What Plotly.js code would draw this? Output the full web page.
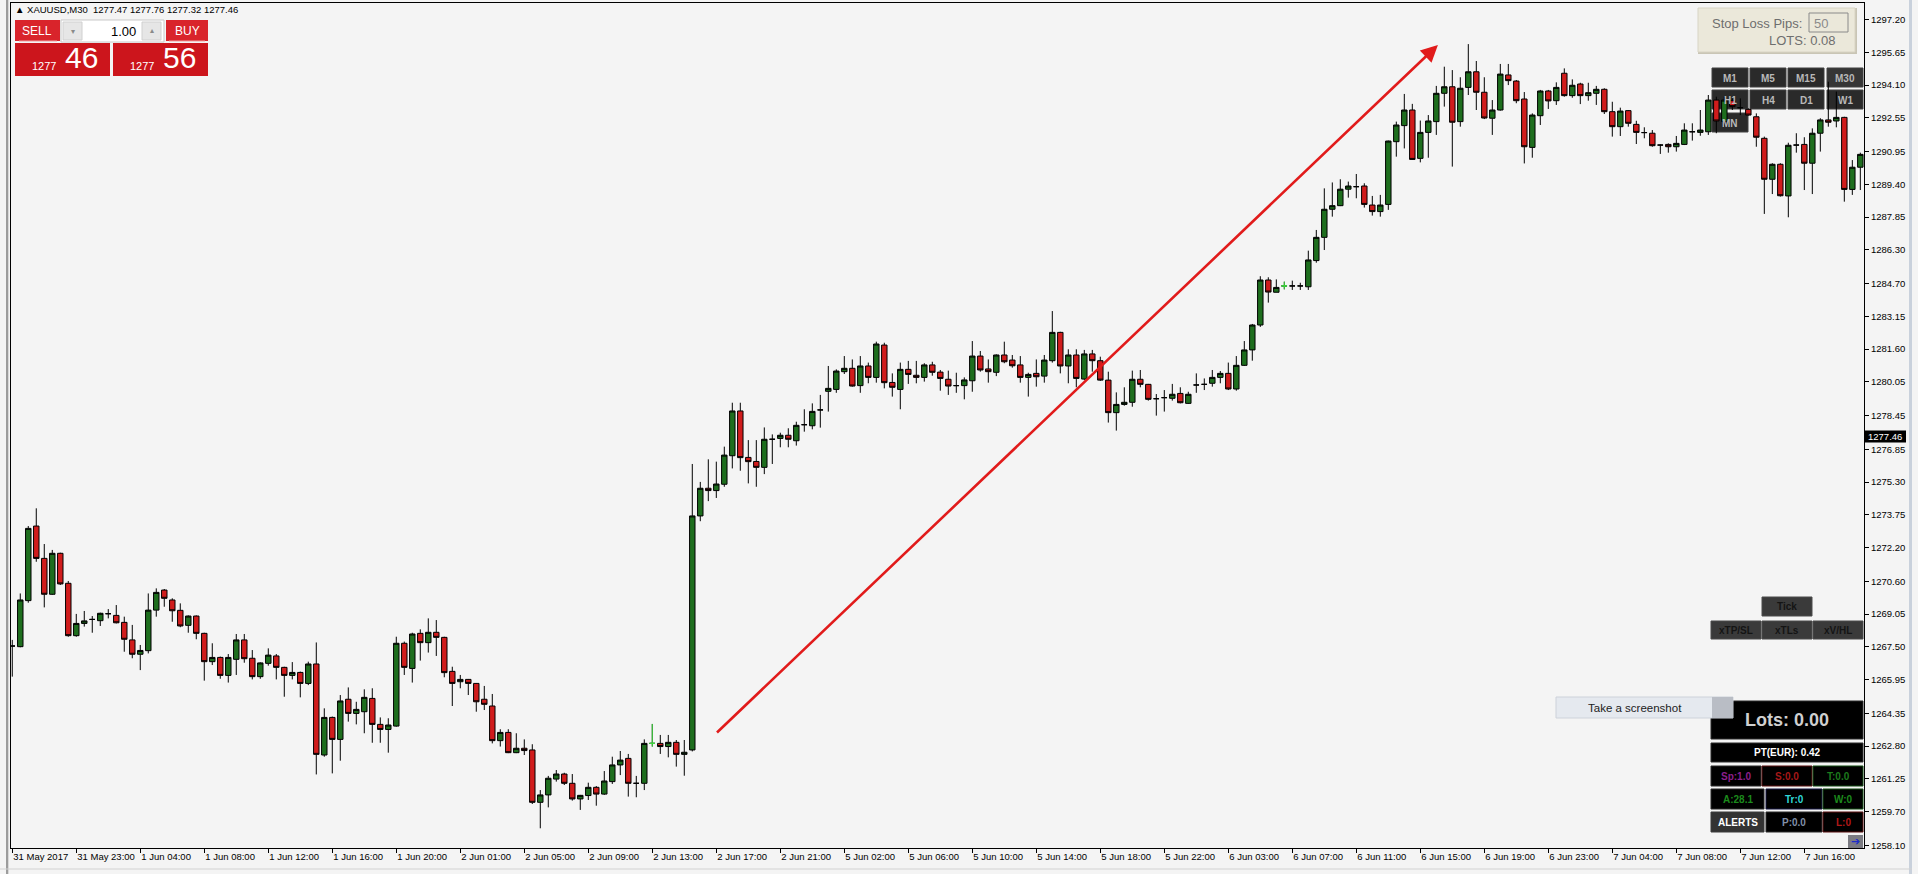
<!DOCTYPE html>
<html><head><meta charset="utf-8">
<script src="https://cdn.plot.ly/plotly-3.0.1.min.js"></script>
<style>html,body{margin:0;padding:0;background:#f4f4f4;overflow:hidden}</style>
</head><body><div id="chart" style="width:1918px;height:874px"></div>
<script>
// ---------------- DATA ----------------
const symbol = 'XAUUSD,M30';
const headerOHLC = ['1277.47', '1277.76', '1277.32', '1277.46'];
const bidParts = ['1277', '46'];
const askParts = ['1277', '56'];
const lotSize = '1.00';
const currentPrice = 1277.46;

const xTickLabels = ['31 May 2017', '31 May 23:00', '1 Jun 04:00', '1 Jun 08:00', '1 Jun 12:00', '1 Jun 16:00',
  '1 Jun 20:00', '2 Jun 01:00', '2 Jun 05:00', '2 Jun 09:00', '2 Jun 13:00', '2 Jun 17:00', '2 Jun 21:00',
  '5 Jun 02:00', '5 Jun 06:00', '5 Jun 10:00', '5 Jun 14:00', '5 Jun 18:00', '5 Jun 22:00', '6 Jun 03:00',
  '6 Jun 07:00', '6 Jun 11:00', '6 Jun 15:00', '6 Jun 19:00', '6 Jun 23:00', '7 Jun 04:00', '7 Jun 08:00',
  '7 Jun 12:00', '7 Jun 16:00'];
const barsPerTick = 8;

const yTickLabels = ['1297.20', '1295.65', '1294.10', '1292.55', '1290.95', '1289.40', '1287.85', '1286.30',
  '1284.70', '1283.15', '1281.60', '1280.05', '1278.45', '1276.85', '1275.30', '1273.75', '1272.20', '1270.60',
  '1269.05', '1267.50', '1265.95', '1264.35', '1262.80', '1261.25', '1259.70', '1258.10'];

const open = [1267.54,1267.51,1269.69,1273.22,1271.69,1269.99,1271.93,1270.51,1268.03,1268.61,
1268.80,1268.74,1269.07,1268.99,1268.66,1267.83,1267.15,1267.32,1269.24,1270.19,
1269.72,1269.23,1268.52,1268.96,1268.14,1266.80,1267.00,1266.15,1266.91,1267.83,
1266.96,1266.09,1266.72,1267.07,1266.53,1266.15,1266.29,1265.77,1266.69,1262.38,
1264.16,1263.12,1265.02,1264.35,1264.43,1265.06,1263.83,1263.59,1263.75,1267.67,
1266.48,1268.14,1267.70,1268.19,1267.95,1266.34,1265.85,1265.96,1265.77,1265.02,
1264.70,1263.06,1263.45,1262.49,1262.70,1262.62,1260.14,1260.49,1261.24,1261.48,
1261.04,1260.30,1260.46,1260.85,1260.53,1261.12,1261.91,1262.22,1261.04,1261.04,
1262.93,1262.93,1262.78,1262.98,1262.41,1262.62,1273.70,1275.01,1274.90,1275.20,
1276.55,1278.67,1276.47,1276.28,1276.00,1277.33,1277.37,1277.52,1277.26,1278.02,
1277.97,1278.72,1279.60,1279.69,1280.53,1280.69,1279.87,1280.80,1280.26,1281.79,
1280.02,1279.69,1280.64,1280.36,1280.26,1280.85,1280.51,1280.17,1279.87,1279.87,
1280.10,1281.27,1280.66,1280.50,1281.32,1281.08,1280.85,1280.26,1280.45,1280.32,
1281.05,1282.39,1280.80,1281.32,1280.18,1281.37,1281.05,1280.13,1278.59,1278.98,
1279.08,1280.17,1279.93,1279.25,1279.30,1279.27,1279.50,1279.03,1279.90,1279.93,
1279.98,1280.26,1280.45,1279.71,1280.83,1281.56,1282.74,1284.87,1284.29,1284.59,
1284.59,1284.59,1284.55,1285.79,1286.89,1288.22,1288.39,1289.17,1289.29,1289.32,
1288.42,1288.11,1288.45,1291.42,1292.18,1292.92,1290.63,1291.86,1292.37,1293.71,
1294.02,1292.37,1293.99,1294.73,1293.76,1292.53,1292.92,1294.58,1294.29,1293.44,
1291.15,1292.65,1293.82,1293.36,1294.66,1293.60,1294.15,1293.60,1293.71,1293.90,
1292.84,1292.13,1292.89,1292.24,1291.85,1291.82,1291.26,1291.29,1291.18,1291.29,
1291.89,1291.86,1291.89,1293.39,1292.37,1293.36,1293.03,1292.95,1292.60,1291.58,
1289.64,1290.35,1288.85,1291.26,1291.29,1290.40,1291.82,1292.45,1292.40,1292.57,
1289.16,1290.21];
const high = [1267.83,1270.03,1273.22,1274.06,1272.37,1272.09,1271.96,1270.62,1269.06,1269.20,
1268.96,1269.12,1269.29,1269.48,1268.93,1268.54,1267.59,1270.03,1270.27,1270.24,
1269.80,1269.56,1268.99,1268.99,1268.17,1267.67,1267.04,1267.16,1268.11,1268.11,
1267.35,1266.77,1267.43,1267.16,1266.56,1266.78,1266.33,1266.80,1267.71,1264.59,
1264.20,1265.22,1265.58,1264.90,1265.49,1265.54,1264.16,1264.12,1267.98,1267.75,
1268.17,1268.33,1268.85,1268.77,1267.98,1266.56,1266.17,1265.98,1265.79,1265.65,
1265.27,1263.60,1263.60,1263.41,1263.12,1262.89,1260.72,1261.39,1261.67,1261.54,
1261.48,1260.49,1261.07,1260.91,1261.62,1262.30,1262.57,1262.43,1261.39,1263.12,
1263.85,1263.33,1263.33,1263.09,1263.09,1276.16,1275.31,1276.38,1276.27,1276.98,
1279.06,1279.06,1277.29,1277.29,1277.89,1277.56,1277.64,1277.85,1278.16,1278.75,
1279.03,1279.43,1280.80,1280.64,1281.27,1281.11,1281.27,1280.96,1281.95,1281.90,
1280.45,1280.96,1281.04,1281.04,1280.93,1281.00,1280.61,1280.58,1280.48,1280.26,
1281.98,1281.51,1281.11,1281.35,1281.95,1281.32,1281.27,1280.48,1281.11,1281.32,
1283.40,1282.42,1281.59,1281.59,1281.56,1281.56,1281.24,1280.53,1279.55,1279.79,
1280.58,1280.61,1279.95,1279.47,1279.66,1279.95,1279.79,1279.58,1280.45,1280.21,
1280.61,1280.56,1280.96,1281.27,1281.98,1282.79,1285.05,1285.00,1284.90,1284.79,
1284.84,1284.74,1286.26,1287.24,1289.21,1289.49,1289.64,1289.53,1289.89,1289.45,
1288.85,1288.90,1291.47,1292.37,1293.68,1293.21,1292.42,1292.68,1294.06,1294.97,
1294.81,1294.47,1296.04,1295.24,1294.47,1293.39,1295.10,1295.10,1294.34,1293.77,
1292.76,1293.87,1293.87,1294.23,1294.89,1294.37,1294.21,1294.21,1294.06,1293.95,
1293.31,1293.03,1292.92,1292.41,1292.10,1291.97,1291.29,1291.34,1291.69,1292.29,
1292.29,1292.92,1293.63,1293.55,1293.55,1293.55,1293.47,1293.00,1292.76,1291.66,
1290.40,1290.40,1291.37,1291.82,1291.63,1292.05,1292.53,1294.26,1293.79,1292.60,
1290.55,1290.90];
const low = [1266.09,1267.48,1269.59,1271.53,1269.37,1269.96,1270.43,1267.98,1267.98,1268.46,
1268.17,1268.49,1268.85,1268.61,1267.27,1266.96,1266.40,1267.19,1268.93,1269.40,
1268.69,1268.43,1268.17,1267.86,1265.90,1266.64,1265.99,1265.81,1266.17,1266.75,
1265.96,1265.99,1266.61,1265.96,1265.14,1265.96,1265.11,1265.69,1261.46,1262.30,
1261.51,1262.11,1263.96,1263.83,1263.41,1262.96,1262.96,1262.49,1263.72,1266.17,
1265.81,1266.85,1267.23,1267.07,1266.06,1264.70,1265.54,1265.22,1264.43,1264.51,
1262.93,1262.78,1262.47,1262.47,1262.38,1260.06,1258.91,1259.90,1261.12,1260.96,
1260.22,1259.78,1260.25,1259.98,1260.49,1261.01,1261.43,1260.41,1260.38,1260.72,
1262.78,1262.43,1262.27,1261.83,1261.40,1262.55,1273.45,1274.40,1274.55,1275.08,
1275.95,1275.84,1275.24,1275.08,1275.68,1276.16,1276.95,1276.95,1277.03,1277.69,
1277.80,1277.88,1278.64,1279.53,1280.42,1279.82,1279.53,1279.98,1280.01,1279.74,
1279.35,1278.75,1279.95,1279.98,1280.06,1280.34,1279.63,1279.43,1279.53,1279.22,
1279.58,1280.53,1280.01,1280.32,1280.93,1280.72,1280.01,1279.35,1279.82,1280.01,
1280.96,1280.45,1279.98,1279.79,1280.13,1280.53,1280.09,1278.12,1277.74,1278.92,
1278.87,1279.79,1279.16,1278.45,1278.64,1279.16,1279.03,1279.00,1279.53,1279.66,
1279.82,1279.98,1279.66,1279.63,1280.80,1281.05,1282.65,1283.80,1284.29,1284.43,
1284.40,1284.40,1284.40,1285.69,1286.29,1287.87,1288.37,1288.77,1288.74,1288.30,
1287.92,1287.87,1288.19,1290.71,1291.10,1290.56,1290.44,1290.66,1291.74,1293.08,
1290.24,1292.13,1293.63,1292.92,1292.49,1291.74,1292.89,1294.10,1293.24,1290.39,
1290.66,1292.21,1292.97,1293.16,1293.55,1293.50,1293.20,1293.36,1293.16,1292.73,
1291.66,1291.69,1292.13,1291.31,1291.58,1291.18,1290.84,1290.90,1290.95,1291.26,
1291.47,1291.70,1291.74,1291.82,1292.13,1292.92,1292.68,1292.65,1291.18,1288.00,
1288.94,1288.82,1287.84,1290.90,1289.13,1288.94,1290.95,1292.13,1292.10,1288.58,
1288.90,1289.13];
const close = [1267.54,1269.72,1273.11,1271.69,1269.99,1271.93,1270.48,1268.03,1268.61,1268.73,
1268.80,1269.09,1269.07,1268.64,1267.86,1267.15,1267.33,1269.24,1270.08,1269.80,
1269.21,1268.49,1268.96,1268.14,1266.80,1267.00,1266.15,1267.00,1267.83,1266.94,
1266.09,1266.74,1267.11,1266.53,1266.15,1266.29,1265.77,1266.69,1262.41,1264.16,
1263.12,1264.94,1264.35,1264.54,1265.11,1263.83,1263.59,1263.80,1267.67,1266.53,
1268.11,1267.70,1268.19,1267.95,1266.28,1265.77,1265.96,1265.77,1264.90,1264.78,
1263.06,1263.45,1262.49,1262.70,1262.59,1260.14,1260.49,1261.28,1261.48,1261.04,
1260.30,1260.47,1260.85,1260.53,1261.15,1261.91,1262.14,1261.04,1261.04,1262.93,
1262.93,1262.78,1262.98,1262.41,1262.51,1273.70,1275.01,1274.90,1275.21,1276.58,
1278.67,1276.46,1276.27,1276.00,1277.33,1277.33,1277.52,1277.33,1277.99,1278.02,
1278.65,1278.72,1279.74,1280.56,1280.69,1279.85,1280.80,1280.26,1281.84,1280.01,
1279.79,1280.64,1280.40,1280.26,1280.85,1280.50,1280.21,1279.85,1279.87,1280.14,
1281.27,1280.61,1280.53,1281.32,1281.00,1280.81,1280.26,1280.40,1280.29,1281.08,
1282.39,1280.80,1281.32,1280.21,1281.37,1281.05,1280.13,1278.59,1278.98,1279.08,
1280.17,1279.93,1279.22,1279.25,1279.30,1279.46,1279.06,1279.46,1279.90,1279.93,
1280.26,1280.45,1279.71,1280.83,1281.56,1282.74,1284.87,1284.30,1284.52,1284.59,
1284.59,1284.59,1285.82,1286.89,1288.22,1288.39,1289.17,1289.32,1289.29,1288.45,
1288.11,1288.42,1291.45,1292.21,1292.92,1290.58,1291.86,1292.40,1293.71,1294.02,
1292.34,1293.95,1294.73,1293.76,1292.54,1292.92,1294.62,1294.31,1293.36,1291.18,
1292.68,1293.82,1293.35,1293.99,1293.60,1294.09,1293.60,1293.74,1293.90,1292.84,
1292.13,1292.87,1292.29,1291.86,1291.85,1291.23,1291.26,1291.18,1291.34,1291.97,
1291.89,1291.97,1293.39,1292.40,1293.39,1293.08,1293.03,1292.68,1291.63,1289.64,
1290.35,1288.86,1291.25,1291.26,1290.40,1291.82,1292.45,1292.34,1292.57,1289.16,
1290.21,1290.82];
const limeBars = [80, 159];
// trend arrow drawn on the chart: [bar index, price]
const arrowTail = [87.9, 1263.38];
const arrowHead = [178.2, 1296.0];

// ---------------- LAYOUT HELPERS ----------------
const FW = 1918, FH = 874;
const ML = 11, MR = 54, MT = 3, MB = 26;
const PW = FW - ML - MR, PH = FH - MT - MB;
const yMin = 1257.977, yMax = 1297.986;
const X = px => (px - ML) / PW;
const Y = py => 1 - (py - MT) / PH;
const YP = p => (p - yMin) / (yMax - yMin);
const FONT = 'Liberation Sans, Arial, sans-serif';

const idx = open.map((_, i) => i);
const shapes = [], annotations = [];
function rect(x0, y0, x1, y1, fill, line, lw, layer) {
  shapes.push({type: 'rect', xref: 'paper', yref: 'paper', x0: X(x0), x1: X(x1), y0: Y(y1), y1: Y(y0),
    fillcolor: fill, line: {color: line || fill, width: lw || 0}, layer: layer || 'above'});
}
function hline(x0, x1, y, color, w) {
  shapes.push({type: 'line', xref: 'paper', yref: 'paper', x0: X(x0), x1: X(x1), y0: Y(y), y1: Y(y),
    line: {color: color, width: w || 1}});
}
function txt(x, y, s, size, color, anchor, bold, family) {
  annotations.push({xref: 'paper', yref: 'paper', x: X(x), y: Y(y), text: bold ? '<b>' + s + '</b>' : s,
    showarrow: false, xanchor: anchor || 'center', yanchor: 'middle', borderpad: 0,
    font: {family: family || FONT, size: size, color: color}});
}

// window frame
rect(6, -5, 8.3, 880, '#9c9c9c');
rect(1909, -5, 1912, 880, '#c9d1dc');
hline(0, 1912, 869, '#d2d2d2', 1);

// header
txt(14, 9.5, '▲ ' + symbol + '  ' + headerOHLC.join(' '), 9.5, '#000', 'left');

// sell / buy panel
rect(15, 20, 60, 41, '#d9242b');
hline(19, 57, 41, '#f2a0a0', 1);
txt(37, 30.5, 'SELL', 12, '#ffffff');
rect(61, 20, 164, 42, '#ffffff', '#c9c9c9', 1);
rect(63, 22, 82, 40, '#e6e6e6', '#d0d0d0', 1);
rect(142, 22, 161, 40, '#e6e6e6', '#d0d0d0', 1);
txt(72.5, 31, '▾', 8, '#8a8a8a');
txt(151.5, 30.5, '▴', 8, '#8a8a8a');
txt(137, 31, lotSize, 13, '#000', 'right');
rect(166, 20, 208, 41, '#d9242b');
hline(169, 205, 41, '#f2a0a0', 1);
txt(187, 30.5, 'BUY', 12, '#ffffff');
rect(15, 43, 110, 76, '#cc151c');
rect(113, 43, 208, 76, '#cc151c');
txt(31, 65.5, bidParts[0], 11, '#ffffff', 'left');
txt(64, 57.5, bidParts[1], 30, '#ffffff', 'left');
txt(129, 65.5, askParts[0], 11, '#ffffff', 'left');
txt(162, 57.5, askParts[1], 30, '#ffffff', 'left');

// stop loss box
rect(1698, 8, 1857, 54, '#c9c5b5');
rect(1698, 8, 1855, 52, '#ebe8da', '#d8d4c4', 1);
txt(1711, 23.5, 'Stop Loss Pips:', 13, '#6e6e6e', 'left');
rect(1809, 13, 1848, 32, '#ebe8da', '#8a8a8a', 1);
txt(1813, 23, '50', 13, '#8a8a8a', 'left');
txt(1836, 41, 'LOTS: 0.08', 13, '#6e6e6e', 'right');

// timeframe buttons (behind candles)
const tfCols = [[1712, 1748], [1750, 1786], [1788, 1824], [1827, 1863]];
const tfRows = [[68, 87], [90, 109], [113, 132]];
const tfNames = [['M1', 'M5', 'M15', 'M30'], ['H1', 'H4', 'D1', 'W1'], ['MN']];
tfNames.forEach((row, r) => row.forEach((n, c) => {
  const [x0, x1] = tfCols[c], [y0, y1] = tfRows[r];
  rect(x0, y0, x1, y1, n === 'M30' ? '#363636' : '#2a2a2a', '#404040', 1, 'below');
  txt((x0 + x1) / 2, (y0 + y1) / 2 + 0.5, n, 10, '#b8b8b8', 'center', true);
}));

// lower right control panel
rect(1762, 597, 1812, 616, '#3a3a3a', '#4a4a4a', 1);
txt(1787, 606.5, 'Tick', 10, '#141414', 'center', true);
[['xTP/SL', 1711, 1761], ['xTLs', 1762, 1812], ['xV/HL', 1813, 1863]].forEach(b => {
  rect(b[1], 621, b[2], 639, '#3a3a3a', '#4a4a4a', 1);
  txt((b[1] + b[2]) / 2, 630, b[0], 10, '#141414', 'center', true);
});
rect(1711, 701, 1863, 739, '#000000', '#2a2a2a', 1);
txt(1787, 720, 'Lots: 0.00', 18, '#cfcfcf', 'center', true);
rect(1711, 743, 1863, 762, '#000000', '#2a2a2a', 1);
txt(1787, 752.5, 'PT(EUR): 0.42', 10, '#ffffff', 'center', true);
const cells = [
  ['Sp:1.0', 1711, 1761, 766, 786, '#000', '#2a2a2a', '#8c1f8c'],
  ['S:0.0', 1762, 1812, 766, 786, '#000', '#5a1010', '#a61818'],
  ['T:0.0', 1813, 1863, 766, 786, '#000', '#134d13', '#1c7a1c'],
  ['A:28.1', 1711, 1764, 789, 809, '#000', '#2a2a2a', '#1c8a1c'],
  ['Tr:0', 1766, 1822, 789, 809, '#000', '#141440', '#2fd6d6'],
  ['W:0', 1823, 1863, 789, 809, '#000', '#134d13', '#1c8a1c'],
  ['ALERTS', 1711, 1764, 812, 832, '#333333', '#3c3c3c', '#ffffff'],
  ['P:0.0', 1766, 1822, 812, 832, '#000', '#2a2a2a', '#8090a8'],
  ['L:0', 1823, 1863, 812, 832, '#000', '#5a1010', '#b01818']];
cells.forEach(c => {
  rect(c[1], c[3], c[2], c[4], c[5], c[6], 1);
  txt((c[1] + c[2]) / 2, (c[3] + c[4]) / 2, c[0], 10, c[7], 'center', true);
});
rect(1848, 835, 1863, 848, '#7b7b82');
txt(1855.5, 841.5, '➔', 11, '#1c2cc8', 'center', true, 'DejaVu Sans');

// screenshot button
rect(1556, 697, 1733, 718, '#e5e9ef', '#cdd2da', 1);
rect(1712, 697, 1733, 718, '#b9bdc5');
txt(1635, 707.5, 'Take a screenshot', 11.5, '#222222');

// current price label
const cp = YP(currentPrice);
shapes.push({type: 'rect', xref: 'paper', yref: 'paper', x0: X(1865), x1: X(1906), y0: cp - 6 / PH, y1: cp + 6 / PH,
  fillcolor: '#000', line: {width: 0}});
annotations.push({xref: 'paper', yref: 'paper', x: X(1867), y: cp, text: currentPrice.toFixed(2), showarrow: false,
  xanchor: 'left', yanchor: 'middle', borderpad: 0, font: {family: FONT, size: 9.5, color: '#fff'}});

// trend arrow
annotations.push({x: arrowHead[0], y: arrowHead[1], ax: arrowTail[0], ay: arrowTail[1], xref: 'x', yref: 'y',
  axref: 'x', ayref: 'y', text: '', showarrow: true, arrowhead: 2, arrowsize: 1.3, arrowwidth: 2.6,
  arrowcolor: '#e11b1b', standoff: 0});

// ---------------- TRACES ----------------
const main = {
  type: 'candlestick', x: idx, open: open, high: high, low: low, close: close,
  increasing: {line: {color: '#000000', width: 1}, fillcolor: '#1e6e1e'},
  decreasing: {line: {color: '#000000', width: 1}, fillcolor: '#d01c1c'},
  whiskerwidth: 0, hoverinfo: 'skip', showlegend: false
};
const pick = arr => arr.map((v, i) => limeBars.includes(i) ? v : null);
const lime = {
  type: 'candlestick', x: idx, open: pick(open), high: pick(high), low: pick(low), close: pick(close),
  increasing: {line: {color: '#3fd93f', width: 1}, fillcolor: '#3fd93f'},
  decreasing: {line: {color: '#3fd93f', width: 1}, fillcolor: '#3fd93f'},
  whiskerwidth: 0, hoverinfo: 'skip', showlegend: false
};

const layout = {
  width: FW, height: FH,
  margin: {l: ML, r: MR, t: MT, b: MB, pad: 0},
  paper_bgcolor: '#f4f4f4', plot_bgcolor: '#f4f4f4',
  showlegend: false, boxgap: 0.32, boxgroupgap: 0, hovermode: false,
  xaxis: {
    type: 'linear', range: [-0.16, 231.46], fixedrange: true,
    tickvals: xTickLabels.map((_, k) => k * barsPerTick), ticktext: xTickLabels,
    tickangle: 0, automargin: false,
    ticks: 'outside', ticklen: 4, tickcolor: '#000', tickwidth: 1,
    ticklabelposition: 'outside right',
    showline: true, linecolor: '#000', linewidth: 1, mirror: true,
    showgrid: false, zeroline: false, rangeslider: {visible: false},
    tickfont: {family: FONT, size: 9.5, color: '#000'}
  },
  yaxis: {
    side: 'right', range: [yMin, yMax], fixedrange: true, automargin: false,
    tickvals: yTickLabels.map(Number), ticktext: yTickLabels,
    ticks: 'outside', ticklen: 4, tickcolor: '#000', tickwidth: 1,
    showline: true, linecolor: '#000', linewidth: 1, mirror: true,
    showgrid: false, zeroline: false,
    tickfont: {family: FONT, size: 9.5, color: '#000'}
  },
  shapes: shapes, annotations: annotations
};

Plotly.newPlot('chart', [main, lime], layout, {staticPlot: true, displayModeBar: false});
</script>
</body></html>
